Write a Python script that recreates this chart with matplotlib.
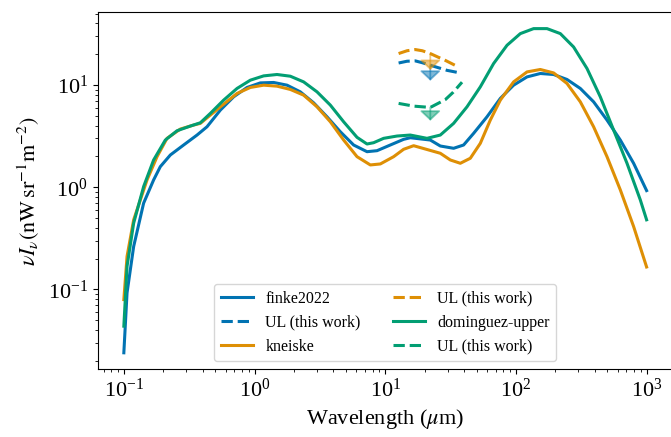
import numpy as np
import matplotlib
matplotlib.use('Agg')
import matplotlib.pyplot as plt

plt.rcParams['font.family'] = ['Liberation Serif', 'DejaVu Serif']
plt.rcParams['mathtext.fontset'] = 'stix'

# EBL models (wavelength in micron, nu I_nu in nW sr^-1 m^-2)
finke_wl = [0.1, 0.1058, 0.1189, 0.1417, 0.169, 0.1902, 0.2269, 0.2868, 0.3631, 0.433,
            0.5475, 0.692, 0.8762, 1.108, 1.400, 1.773, 2.240, 2.833, 3.586, 4.535,
            5.731, 7.256, 8.657, 10.94, 13.83, 15.56, 22.13, 26.40, 33.37, 39.79,
            47.47, 60.09, 75.97, 96.0, 121.6, 153.7, 194.3, 246.0, 311.0, 393.0,
            497.7, 629.3, 795.3, 1000]
finke_val = [0.024, 0.0925, 0.2633, 0.698, 1.178, 1.589, 2.066, 2.587, 3.237, 3.902,
             5.677, 7.654, 9.454, 10.48, 10.58, 9.955, 8.565, 6.690, 4.884, 3.486,
             2.587, 2.225, 2.276, 2.587, 2.939, 3.047, 2.893, 2.529, 2.402, 2.587,
             3.364, 4.884, 7.384, 9.955, 11.99, 12.95, 12.66, 11.32, 9.245, 6.842,
             4.535, 2.893, 1.714, 0.9265]

kneiske_wl = [0.1, 0.1058, 0.1189, 0.1505, 0.1795, 0.214, 0.2706, 0.342, 0.3849, 0.5475,
              0.7346, 0.9288, 1.174, 1.486, 1.879, 2.375, 3.007, 3.802, 4.806, 6.084,
              7.691, 9.173, 11.6, 13.83, 16.5, 20.88, 26.4, 31.49, 37.55, 44.78,
              53.41, 63.69, 75.97, 96.0, 121.6, 153.7, 194.3, 246.0, 311.0, 393.0,
              497.7, 629.3, 795.3, 1000]
kneiske_val = [0.0795, 0.2103, 0.4797, 1.178, 1.989, 3.006, 3.705, 4.054, 4.211, 6.115,
               8.262, 9.454, 9.955, 9.734, 9.04, 7.952, 6.115, 4.365, 2.893, 1.989,
               1.651, 1.688, 1.989, 2.349, 2.546, 2.338, 2.147, 1.846, 1.714, 1.919,
               2.687, 4.535, 7.108, 10.72, 13.42, 14.17, 13.12, 10.34, 6.842, 3.902,
               1.989, 0.9411, 0.4126, 0.1658]

dominguez_wl = [0.1, 0.1058, 0.1189, 0.1417, 0.169, 0.2077, 0.2553, 0.3228, 0.3849, 0.459,
                0.5801, 0.7346, 0.9288, 1.174, 1.486, 1.879, 2.375, 3.007, 3.802, 4.806,
                6.084, 7.256, 8.152, 9.723, 12.31, 15.56, 20.88, 26.40, 33.37, 42.25,
                53.41, 67.51, 85.5, 108.1, 136.6, 173.0, 218.7, 276.3, 349.9, 442.3,
                559.2, 707.9, 894.8, 1000]
dominguez_val = [0.0437, 0.168, 0.4454, 1.014, 1.846, 2.893, 3.566, 3.963, 4.268, 5.272,
                 7.108, 9.245, 11.14, 12.27, 12.66, 12.18, 10.72, 8.565, 6.354, 4.365,
                 3.075, 2.646, 2.724, 3.006, 3.166, 3.237, 3.006, 3.237, 4.211, 6.115,
                 9.583, 16.21, 24.45, 31.80, 35.58, 35.58, 31.80, 23.53, 14.49, 7.654,
                 3.623, 1.714, 0.7516, 0.4797]

# upper limits (this work)
ul_finke_wl = [12.66, 14.68, 16.99, 19.23, 22.13, 25.49, 29.71, 36.44]
ul_finke = [16.4, 17.07, 17.2, 16.5, 15.6, 14.75, 13.9, 13.2]
ul_kneiske_wl = [12.66, 14.68, 16.99, 19.23, 22.13, 25.49, 27.98, 34.99]
ul_kneiske = [20.29, 21.61, 22.2, 21.61, 20.29, 18.67, 17.74, 15.36]
ul_dominguez_wl = [12.66, 16.5, 22.13, 28.83, 33.19, 38.7]
ul_dominguez = [6.6, 6.21, 6.03, 7.19, 8.51, 10.65]

arrow_wl = 22.13
arrow_start = [15.6, 20.3, 6.03]
arrow_end = [11.0, 14.0, 4.47]

colors = ['#0173b2', '#de8f05', '#029e73']

fig = plt.figure(figsize=(6.71, 4.37), dpi=100)
ax = fig.add_axes([0.1456, 0.1556, 0.857, 0.816])

lw = 2.2
ax.plot(finke_wl, finke_val, color=colors[0], lw=lw, label='finke2022')
ax.plot(ul_finke_wl, ul_finke, color=colors[0], lw=lw, ls='--', label='UL (this work)')
ax.plot(kneiske_wl, kneiske_val, color=colors[1], lw=lw, label='kneiske')
ax.plot(ul_kneiske_wl, ul_kneiske, color=colors[1], lw=lw, ls='--', label='UL (this work)')
ax.plot(dominguez_wl, dominguez_val, color=colors[2], lw=lw, label='dominguez-upper')
ax.plot(ul_dominguez_wl, ul_dominguez, color=colors[2], lw=lw, ls='--', label='UL (this work)')

for c, y0, y1 in zip(colors, arrow_start, arrow_end):
    ax.annotate('', xy=(arrow_wl, y1), xytext=(arrow_wl, y0),
                arrowprops=dict(arrowstyle='-|>,head_length=0.3,head_width=0.32',
                                color=c, alpha=0.5, lw=1.3, mutation_scale=20,
                                shrinkA=0, shrinkB=0))

ax.set_xscale('log')
ax.set_yscale('log')
ax.set_xlabel(r'Wavelength ($\mu$m)', fontsize=16)
ax.set_ylabel(r'$\nu I_\nu (\mathrm{nW\,sr^{-1}m^{-2}})$', fontsize=16)
ax.tick_params(labelsize=16)
ax.legend(loc='lower center', ncol=2, fontsize=11.5)

fig.savefig('out.png', dpi=100)
